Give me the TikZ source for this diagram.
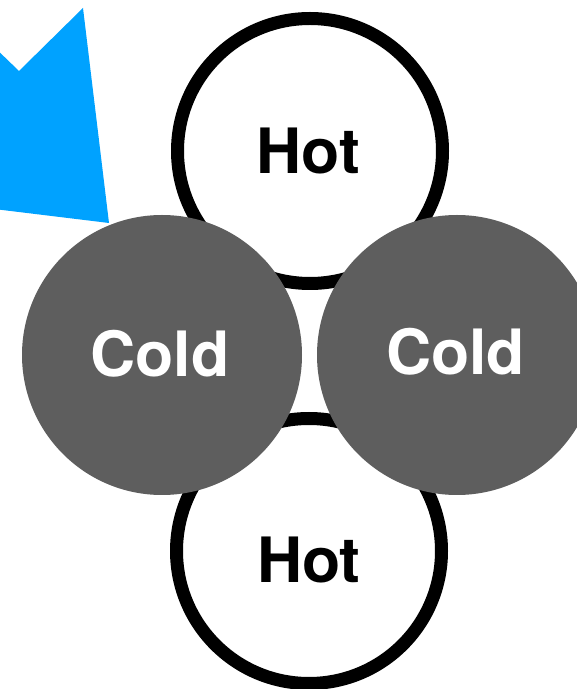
\documentclass[tikz,border=0pt]{standalone}
\usepackage{fontspec}
\setmainfont{TeX Gyre Heros}
\definecolor{coldgray}{RGB}{94,94,94}
\definecolor{arrowblue}{RGB}{0,162,255}
\tikzset{
  hotcircle/.style={circle, draw=black, fill=white, line width=13pt, inner sep=0pt, minimum size=265pt},
  coldcircle/.style={circle, fill=coldgray, draw=none, inner sep=0pt, minimum size=280pt},
  hotlabel/.style={anchor=base, inner sep=0pt, text=black, font=\fontsize{62.5}{62.5}\selectfont\bfseries},
  coldlabel/.style={anchor=base, inner sep=0pt, text=white, font=\fontsize{62.5}{62.5}\selectfont\bfseries}
}
\begin{document}
\begin{tikzpicture}[x=1pt,y=1pt]
  \useasboundingbox (0,0) rectangle (577,689);
  \clip (0,0) rectangle (577,689);
  \fill[white] (0,0) rectangle (577,689);
  % blue arrow head entering from the upper left
  \fill[arrowblue] (-10,646) -- (19,618) -- (83,681) -- (109,466) -- (-10,480.5) -- cycle;
  % hot circles
  \node[hotcircle] (hotTop) at (310,538) {};
  \node[hotcircle] (hotBottom) at (309,138) {};
  % cold circles on top
  \node[coldcircle] (coldLeft) at (162,334) {};
  \node[coldcircle] (coldRight) at (457,334) {};
  % labels
  \node[hotlabel] (hotTopText) at (308.5,515) {Hot};
  \node[hotlabel] (hotBottomText) at (309,106) {Hot};
  \node[coldlabel] (coldLeftText) at (160,312) {Cold};
  \node[coldlabel] (coldRightText) at (455.5,314) {Cold};
\end{tikzpicture}
\end{document}
